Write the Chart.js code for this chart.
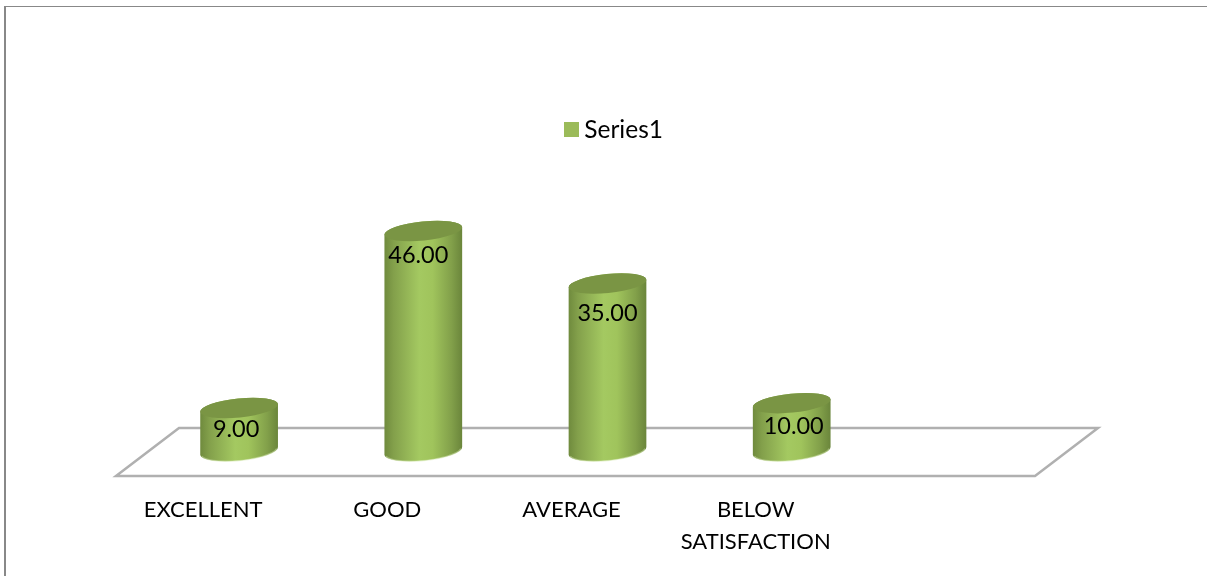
<!DOCTYPE html>
<html>
<head>
<meta charset="utf-8">
<script src="https://cdn.jsdelivr.net/npm/chart.js@4"></script>
<style>
    html, body { margin: 0; padding: 0; background: #fff; overflow: hidden; }
    #wrap { position: relative; width: 1207px; height: 576px; }
    #frame { position: absolute; left: 4px; top: 6px; right: 0; bottom: 0;
             border-top: 1.5px solid #888; border-left: 2px solid #888; }
    #chart { position: absolute; left: 0; top: 0; }
</style>
</head>
<body>
<div id="wrap">
    <div id="frame"></div>
    <canvas id="chart" width="1207" height="576"></canvas>
</div>
<script>
const categories = ['EXCELLENT', 'GOOD', 'AVERAGE', ['BELOW', 'SATISFACTION'], ''];
const seriesName = 'Series1';
const seriesValues = [9, 46, 35, 10, null];
// label offset from the top of each cylinder
const labelNudgeX = [-3, -5, 0, 2, 0];
const labelNudgeY = [21, 24, 30, 23, 0];

const FONT = 'Lato, "Open Sans", sans-serif';
const TICK_SIZE = 22;
const VALUE_SIZE = 23.5;
const LEGEND_SIZE = 24.5;

// legend swatch, a canvas so the gap to the text stays tight
const swatch = document.createElement('canvas');
swatch.width = 15;
swatch.height = 15;
const swatchCtx = swatch.getContext('2d');
swatchCtx.fillStyle = '#9bbb59';
swatchCtx.fillRect(0, 0, 15, 15);

function drawCylinder(ctx, x, top, base, halfW) {
    const tilt = -0.1;
    const ry = 9.5;

    const body = ctx.createLinearGradient(x - halfW, 0, x + halfW, 0);
    body.addColorStop(0, '#6f8a3d');
    body.addColorStop(0.12, '#83a04b');
    body.addColorStop(0.45, '#a4c961');
    body.addColorStop(0.62, '#a0c45c');
    body.addColorStop(0.86, '#82a04a');
    body.addColorStop(1, '#6a853b');

    ctx.beginPath();
    ctx.ellipse(x, base, halfW, ry, tilt, 0, Math.PI, false);
    ctx.ellipse(x, top, halfW, ry, tilt, Math.PI, 2 * Math.PI, false);
    ctx.closePath();
    ctx.fillStyle = body;
    ctx.fill();

    // pale rim along the bottom edge
    ctx.beginPath();
    ctx.ellipse(x, base, halfW - 1, ry, tilt, 0.15, Math.PI - 0.15, false);
    ctx.strokeStyle = 'rgba(215,232,180,0.45)';
    ctx.lineWidth = 1.5;
    ctx.stroke();

    ctx.beginPath();
    ctx.ellipse(x, top, halfW, ry, tilt, 0, 2 * Math.PI);
    ctx.fillStyle = '#7a9544';
    ctx.fill();
}

const cylinderPlugin = {
    id: 'cylinders',
    afterLayout(chart) {
        // legend sits a little right of the plot centre
        chart.legend.left += 9;
        chart.legend.right += 9;
    },
    beforeDatasetsDraw(chart) {
        // floor plane behind the bars
        const ctx = chart.ctx;
        const area = chart.chartArea;
        const base = chart.scales.y.getPixelForValue(0);
        ctx.save();
        ctx.beginPath();
        ctx.moveTo(area.left + 32, base - 23);
        ctx.lineTo(area.right + 30, base - 23);
        ctx.lineTo(area.right - 33, base + 25);
        ctx.lineTo(area.left - 31, base + 25);
        ctx.closePath();
        ctx.strokeStyle = '#b0b0b0';
        ctx.lineWidth = 2.5;
        ctx.stroke();
        ctx.restore();
    },
    beforeDatasetDraw(chart, args) {
        const ctx = chart.ctx;
        ctx.save();
        args.meta.data.forEach(function(bar, i) {
            if (seriesValues[i] === null) return;
            drawCylinder(ctx, bar.x, bar.y, bar.base, bar.width / 2);
        });
        ctx.restore();
        return false;
    },
    afterDatasetsDraw(chart) {
        const ctx = chart.ctx;
        const meta = chart.getDatasetMeta(0);
        ctx.save();
        ctx.font = VALUE_SIZE + 'px ' + FONT;
        ctx.fillStyle = '#000';
        ctx.textAlign = 'center';
        ctx.textBaseline = 'middle';
        meta.data.forEach(function(bar, i) {
            if (seriesValues[i] === null) return;
            ctx.fillText(seriesValues[i].toFixed(2), bar.x + labelNudgeX[i], bar.y + labelNudgeY[i]);
        });
        ctx.restore();
    }
};

new Chart(document.getElementById('chart').getContext('2d'), {
    type: 'bar',
    data: {
        labels: categories,
        datasets: [{
            label: seriesName,
            data: seriesValues,
            backgroundColor: '#9bbb59',
            categoryPercentage: 1,
            barPercentage: 0.424
        }]
    },
    plugins: [cylinderPlugin],
    options: {
        responsive: false,
        animation: false,
        layout: { padding: { left: 147, right: 139, top: 96, bottom: 0 } },
        plugins: {
            tooltip: { enabled: false },
            legend: {
                position: 'top',
                fullSize: false,
                labels: {
                    usePointStyle: true,
                    pointStyle: swatch,
                    pointStyleWidth: 2,
                    padding: 21.5,
                    color: '#000',
                    font: { family: FONT, size: LEGEND_SIZE }
                }
            }
        },
        scales: {
            x: {
                grid: { display: false, drawTicks: false },
                border: { display: false },
                afterFit(scale) { scale.height = 125; },
                ticks: {
                    color: '#000',
                    font: { family: FONT, size: TICK_SIZE, lineHeight: 1.45 },
                    autoSkip: false,
                    maxRotation: 0,
                    padding: 43,
                    labelOffset: -36
                }
            },
            y: {
                display: false,
                min: 0,
                max: 62.5
            }
        }
    }
});
</script>
</body>
</html>
